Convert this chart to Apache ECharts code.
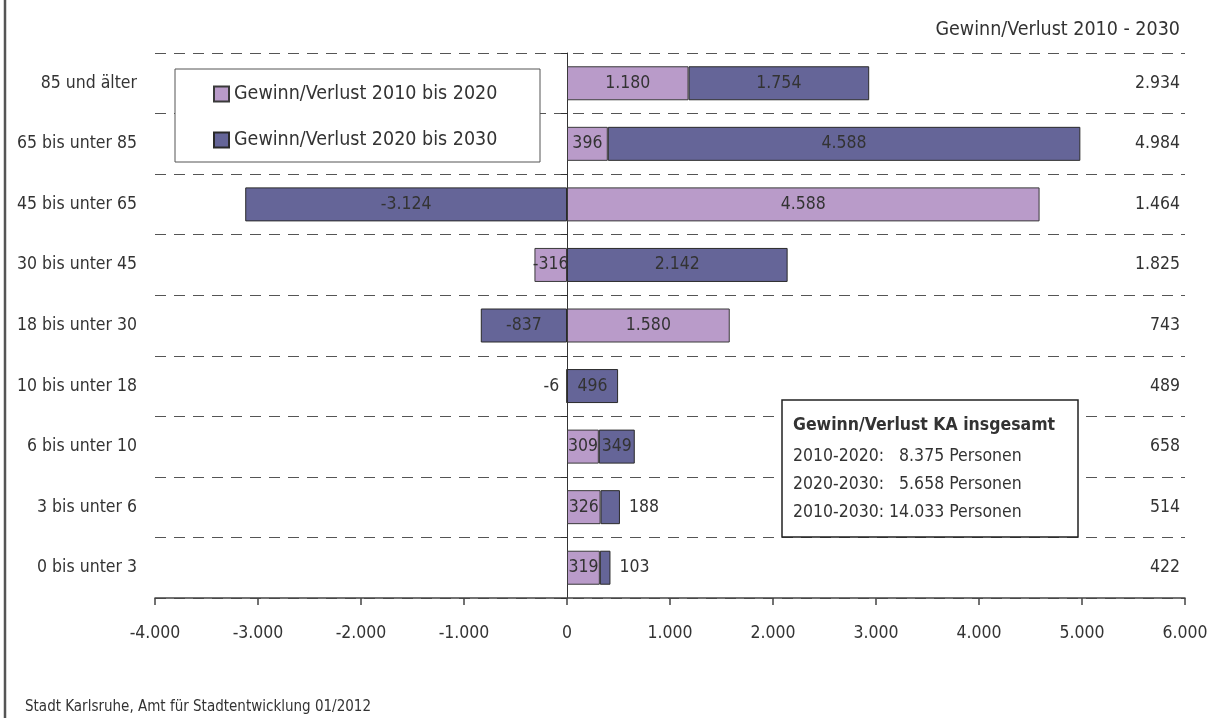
<!DOCTYPE html>
<html>
<head>
<meta charset="utf-8">
<script src="https://cdn.jsdelivr.net/npm/echarts@6/dist/echarts.min.js"></script>
<style>
  html, body { margin: 0; padding: 0; background: #fff; }
  #chart { width: 1216px; height: 725px; }
</style>
</head>
<body>
<div id="chart"></div>
<script>
// age groups, bottom to top
const categories = ['0 bis unter 3', '3 bis unter 6', '6 bis unter 10', '10 bis unter 18', '18 bis unter 30',
  '30 bis unter 45', '45 bis unter 65', '65 bis unter 85', '85 und älter']
const gain2010to2020 = [319, 326, 309, -6, 1580, -316, 4588, 396, 1180]
const gain2020to2030 = [103, 188, 349, 496, -837, 2142, -3124, 4588, 1754]
const total2010to2030 = [422, 514, 658, 489, 743, 1825, 1464, 4984, 2934]
const seriesNames = ['Gewinn/Verlust 2010 bis 2020', 'Gewinn/Verlust 2020 bis 2030']
const xMin = -4000
const xMax = 6000
const xStep = 1000
const summaryTitle = 'Gewinn/Verlust KA insgesamt'
const summaryLines = ['2010-2020:   8.375 Personen', '2020-2030:   5.658 Personen', '2010-2030: 14.033 Personen']

const FONT = "'DejaVu Sans Condensed', 'DejaVu Sans', sans-serif"
const TXT = '#333'
const LIGHT = '#b99bc9'
const DARK = '#656598'
const FS = 17.5

const GRID_LEFT = 155
const GRID_RIGHT = 31
const plotWidth = 1216 - GRID_LEFT - GRID_RIGHT
// shift of the zero line from the left edge of the plot
const zeroShift = plotWidth * (0 - xMin) / (xMax - xMin)

// small bars get their label outside
const outsideLight = { 3: 'left' }
const outsideDark = { 0: 'right', 1: 'right' }

const fmt = (n) => {
  const s = Math.abs(Math.round(n)).toString().replace(/\B(?=(\d{3})+(?!\d))/g, '.')
  return n < 0 ? '-' + s : s
}

const toItems = (arr, outside) => arr.map((v, i) => {
  const item = { value: v }
  if (outside[i]) item.label = { position: outside[i], distance: outside[i] === 'left' ? 7 : 9 }
  return item
})

const barLabel = {
  show: true,
  position: 'inside',
  color: TXT,
  fontFamily: FONT,
  fontSize: FS,
  formatter: (p) => fmt(p.value)
}

const chart = echarts.init(document.getElementById('chart'))
chart.setOption({
  backgroundColor: '#fff',
  animation: false,
  textStyle: { fontFamily: FONT, color: TXT },
  grid: { left: GRID_LEFT, right: GRID_RIGHT, top: 53, bottom: 127, outerBoundsMode: 'none', containLabel: false },
  legend: {
    left: 213,
    top: 84,
    orient: 'vertical',
    icon: 'rect',
    itemWidth: 15,
    itemHeight: 15,
    itemGap: 26,
    padding: 0,
    textStyle: { fontFamily: FONT, fontSize: 19.5, color: TXT, lineHeight: 20 },
    data: seriesNames
  },
  xAxis: {
    type: 'value',
    min: xMin,
    max: xMax,
    interval: xStep,
    axisLine: { show: true, lineStyle: { color: '#444', width: 1.5 } },
    axisTick: { show: true, length: 7, lineStyle: { color: '#444', width: 1.5 } },
    axisLabel: { fontFamily: FONT, fontSize: FS, color: TXT, margin: 26, formatter: fmt },
    splitLine: { show: false }
  },
  yAxis: [
    {
      type: 'category',
      data: categories,
      axisLine: { show: false },
      axisTick: { show: false },
      axisLabel: { fontFamily: FONT, fontSize: FS, color: TXT, margin: 18 },
      splitLine: { show: true, lineStyle: { color: '#555', type: [11, 8], width: 1 } }
    },
    {
      type: 'category',
      position: 'right',
      data: total2010to2030.map(fmt),
      axisLine: { show: false },
      axisTick: { show: false },
      axisLabel: { inside: true, fontFamily: FONT, fontSize: FS, color: TXT, margin: 5 },
      splitLine: { show: false }
    },
    {
      // zero line with its small ticks
      type: 'category',
      position: 'left',
      offset: -zeroShift,
      data: categories,
      axisLine: { show: true, onZero: false, lineStyle: { color: '#333', width: 1 } },
      axisTick: { show: true, length: 6, lineStyle: { color: '#333', width: 1 } },
      axisLabel: { show: false },
      splitLine: { show: false }
    }
  ],
  series: [
    {
      name: seriesNames[0],
      type: 'bar',
      stack: 'gain',
      barWidth: 34,
      itemStyle: { color: LIGHT, borderColor: '#3a3a3a', borderWidth: 1 },
      label: barLabel,
      data: toItems(gain2010to2020, outsideLight)
    },
    {
      name: seriesNames[1],
      type: 'bar',
      stack: 'gain',
      barWidth: 34,
      itemStyle: { color: DARK, borderColor: '#2a2a2a', borderWidth: 1 },
      label: barLabel,
      data: toItems(gain2020to2030, outsideDark)
    }
  ],
  graphic: [
    // frame line on the left edge
    { type: 'line', z: 10, shape: { x1: 5, y1: 0, x2: 5, y2: 718 }, style: { stroke: '#555', lineWidth: 2.5 } },
    // legend box
    { type: 'rect', z: 3, shape: { x: 175, y: 69, width: 365, height: 93 },
      style: { fill: '#fff', stroke: '#555', lineWidth: 1 } },
    // header of the totals column
    { type: 'text', z: 10, x: 1180, y: 30,
      style: { text: 'Gewinn/Verlust 2010 - 2030', font: '19.5px ' + FONT, fill: TXT, align: 'right', verticalAlign: 'middle' } },
    // summary box
    { type: 'rect', z: 10, shape: { x: 782, y: 400, width: 296, height: 137 },
      style: { fill: '#fff', stroke: '#222', lineWidth: 1.5 } },
    { type: 'text', z: 11, x: 793, y: 425,
      style: { text: summaryTitle, font: 'bold ' + FS + 'px ' + FONT, fill: TXT, verticalAlign: 'middle' } },
    ...summaryLines.map((t, i) => ({
      type: 'text', z: 11, x: 793, y: 456 + i * 28,
      style: { text: t, font: FS + 'px ' + FONT, fill: TXT, verticalAlign: 'middle' }
    })),
    // source
    { type: 'text', z: 10, x: 25, y: 707,
      style: { text: 'Stadt Karlsruhe, Amt für Stadtentwicklung 01/2012', font: '15px ' + FONT, fill: TXT, verticalAlign: 'middle' } }
  ]
})
</script>
</body>
</html>
